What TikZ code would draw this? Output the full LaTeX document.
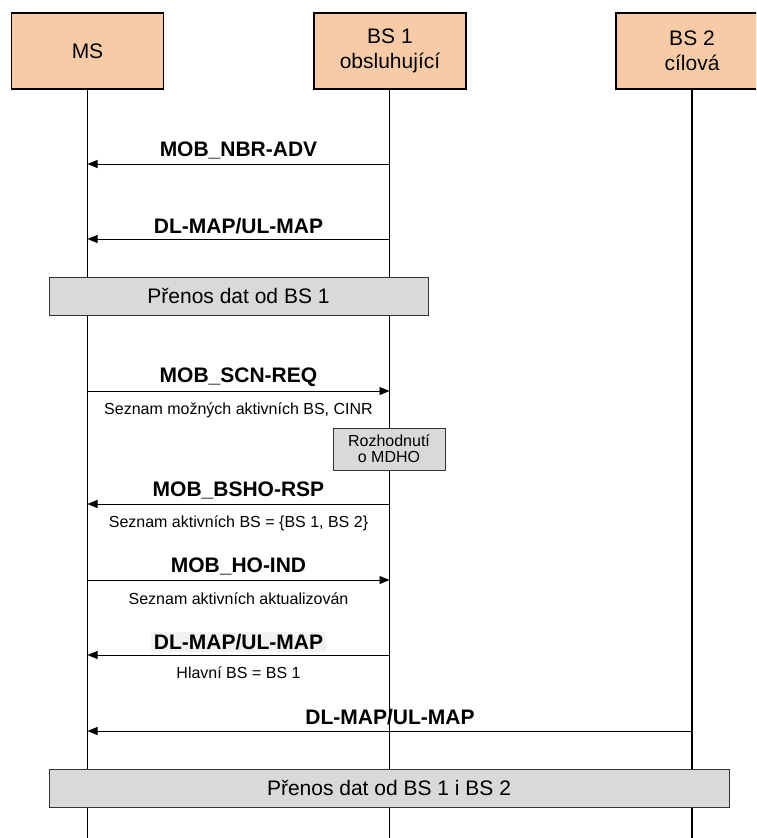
\documentclass[tikz,border=0pt]{standalone}
\usepackage{fontspec}
\setmainfont{Liberation Sans}
\usetikzlibrary{arrows.meta}
\definecolor{peach}{RGB}{248,203,167}
\definecolor{boxgray}{RGB}{217,217,217}
\definecolor{hilite}{RGB}{242,242,242}
\begin{document}
\begin{tikzpicture}[x=1pt,y=-1pt,
  actor/.style={draw=black,line width=1.3pt,fill=peach,minimum width=152pt,
    minimum height=76pt,inner sep=0pt,align=center,
    font=\fontsize{21}{25}\selectfont},
  lifeline/.style={line width=1.5pt},
  msg/.style={line width=0.9pt,-{Triangle[length=10pt,width=8pt]}},
  msglabel/.style={font=\fontsize{21}{25}\bfseries\selectfont,inner sep=1pt},
  note/.style={font=\fontsize{16}{19}\selectfont,inner sep=1pt},
  phase/.style={draw=black!80,line width=1pt,fill=boxgray,minimum height=38pt,
    inner sep=0pt,font=\fontsize{21}{25}\selectfont},
  decision/.style={draw=black!80,line width=1pt,fill=boxgray,minimum width=112pt,
    minimum height=42pt,inner sep=0pt,align=center,
    font=\fontsize{16}{16}\selectfont},
  ]
\useasboundingbox (0,0) rectangle (756,838);
\clip (0,0) rectangle (756,838);

% participants
\node[actor] (ms)  at (87.5,51) {MS};
\node[actor] (bs1) at (390,51)  {BS 1\\obsluhující};
\node[actor] (bs2) at (692,51)  {BS 2\\cílová};

% lifelines
\coordinate (msTop)  at (87.5,89);  \coordinate (msEnd)  at (87.5,838);
\coordinate (bs1Top) at (389.5,89); \coordinate (bs1End) at (389.5,838);
\coordinate (bs2Top) at (692,89);   \coordinate (bs2End) at (692,838);
\draw[lifeline] (msTop)  -- (msEnd);
\draw[lifeline] (bs1Top) -- (bs1End);
\draw[lifeline] (bs2Top) -- (bs2End);

% message end points on the lifelines
\coordinate (m1a) at (389.5,164); \coordinate (m1b) at (87.5,164);
\coordinate (m2a) at (389.5,239); \coordinate (m2b) at (87.5,239);
\coordinate (m3a) at (87.5,391);  \coordinate (m3b) at (389.5,391);
\coordinate (m4a) at (389.5,504); \coordinate (m4b) at (87.5,504);
\coordinate (m5a) at (87.5,580);  \coordinate (m5b) at (389.5,580);
\coordinate (m6a) at (389.5,655); \coordinate (m6b) at (87.5,655);
\coordinate (m7a) at (692,731);   \coordinate (m7b) at (87.5,731);

% messages
\draw[msg] (m1a) -- (m1b);
\draw[msg] (m2a) -- (m2b);
\draw[msg] (m3a) -- (m3b);
\draw[msg] (m4a) -- (m4b);
\draw[msg] (m5a) -- (m5b);
\draw[msg] (m6a) -- (m6b);
\draw[msg] (m7a) -- (m7b);

% message labels
\node[msglabel] (l1) at (238.5,150) {MOB\_NBR-ADV};
\node[msglabel] (l2) at (238.5,226) {DL-MAP/UL-MAP};
\node[msglabel] (l3) at (238.5,377) {MOB\_SCN-REQ};
\node[msglabel] (l4) at (238.5,490) {MOB\_BSHO-RSP};
\node[msglabel] (l5) at (238.5,566) {MOB\_HO-IND};
\node[msglabel,fill=hilite,inner xsep=3pt,inner ysep=2pt] (l6) at (238.5,642) {DL-MAP/UL-MAP};
\node[msglabel] (l7) at (390,717) {DL-MAP/UL-MAP};

% notes below messages
\node[note] (n3) at (238.5,410) {Seznam možných aktivních BS, CINR};
\node[note] (n4) at (238.5,523) {Seznam aktivních BS = \{BS 1, BS 2\}};
\node[note] (n5) at (238.5,599) {Seznam aktivních aktualizován};
\node[note] (n6) at (238.5,673) {Hlavní BS = BS 1};

% decision on the serving station
\node[decision] (dec) at (389,449) {Rozhodnutí\\o MDHO};

% data transfer phases
\node[phase,minimum width=379pt] (p1) at (238.5,296) {Přenos dat od BS 1};
\node[phase,minimum width=680pt] (p2) at (389,788) {Přenos dat od BS 1 i BS 2};
\end{tikzpicture}
\end{document}
